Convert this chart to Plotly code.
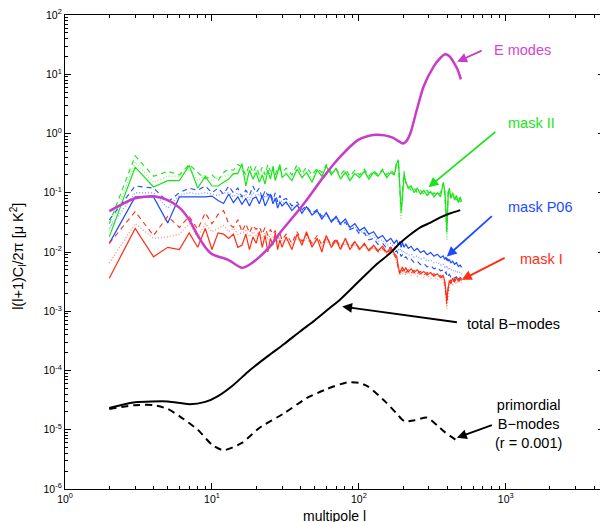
import plotly.graph_objects as go
import math

# ---------------- data ----------------
L_LOW = list(range(2, 31))
L_HIGH = [32, 35, 38, 41, 44, 48, 52, 56, 60, 65,
          70, 75, 81, 87, 94, 101, 109, 117, 126, 135,
          145, 155, 165, 174, 181, 186, 190, 194, 198, 203,
          209, 217, 227, 238, 250, 263, 277, 292, 308, 325,
          342, 360, 375, 385, 392, 397, 401, 406, 413, 423,
          435, 448, 462, 476, 490, 500]

# mask II (green)
GREEN_SOLID_LOW = [0.018, 0.27, 0.125, 0.16, 0.16, 0.29, 0.12, 0.19, 0.13, 0.13,
                   0.15, 0.17, 0.21, 0.21, 0.31, 0.13, 0.24, 0.17, 0.22, 0.15,
                   0.2, 0.14, 0.24, 0.17, 0.27, 0.16, 0.22, 0.3, 0.18]
GREEN_SOLID_HIGH = [0.21, 0.16, 0.25, 0.18, 0.22, 0.15, 0.24, 0.19, 0.28, 0.2,
                    0.26, 0.17, 0.22, 0.16, 0.21, 0.18, 0.23, 0.17, 0.22, 0.19,
                    0.24, 0.18, 0.22, 0.2, 0.31, 0.36, 0.13, 0.05, 0.08, 0.21,
                    0.15, 0.12, 0.13, 0.1, 0.12, 0.095, 0.11, 0.09, 0.105, 0.085,
                    0.1, 0.085, 0.15, 0.11, 0.05, 0.024, 0.04, 0.1, 0.12, 0.08,
                    0.1, 0.075, 0.09, 0.068, 0.085, 0.07]
GREEN_DASH_LOW = [0.03, 0.42, 0.19, 0.23, 0.2, 0.3, 0.22, 0.17, 0.2, 0.16,
                  0.22, 0.25, 0.24, 0.3, 0.27, 0.2, 0.3, 0.22, 0.28, 0.2,
                  0.27, 0.2, 0.3, 0.23, 0.28, 0.2, 0.27, 0.25, 0.22]
GREEN_DASH_HIGH = [0.26, 0.2, 0.3, 0.21, 0.27, 0.2, 0.26, 0.22, 0.3, 0.22,
                   0.25, 0.2, 0.25, 0.19, 0.24, 0.2, 0.25, 0.19, 0.24, 0.2,
                   0.25, 0.2, 0.24, 0.21, 0.33, 0.3, 0.09, 0.045, 0.1, 0.23,
                   0.14, 0.13, 0.11, 0.12, 0.1, 0.11, 0.095, 0.11, 0.09, 0.1,
                   0.09, 0.1, 0.14, 0.09, 0.04, 0.02, 0.05, 0.11, 0.1, 0.09,
                   0.085, 0.09, 0.075, 0.085, 0.07, 0.08]
GREEN_DOT_LOW = [0.023, 0.33, 0.15, 0.19, 0.19, 0.25, 0.16, 0.2, 0.16, 0.18,
                 0.19, 0.2, 0.2, 0.23, 0.25, 0.17, 0.25, 0.19, 0.24, 0.18,
                 0.23, 0.17, 0.25, 0.19, 0.24, 0.18, 0.24, 0.26, 0.2]
GREEN_DOT_HIGH = [0.23, 0.18, 0.27, 0.2, 0.24, 0.17, 0.25, 0.2, 0.27, 0.21,
                  0.24, 0.18, 0.23, 0.18, 0.22, 0.19, 0.24, 0.18, 0.23, 0.19,
                  0.23, 0.19, 0.23, 0.2, 0.28, 0.33, 0.1, 0.035, 0.07, 0.2,
                  0.16, 0.11, 0.12, 0.11, 0.11, 0.1, 0.1, 0.1, 0.1, 0.09,
                  0.095, 0.09, 0.13, 0.1, 0.035, 0.016, 0.035, 0.09, 0.11, 0.085,
                  0.095, 0.08, 0.085, 0.07, 0.08, 0.072]

# mask P06 (blue)
BLUE_SOLID_LOW = [0.014, 0.085, 0.085, 0.031, 0.085, 0.085, 0.085, 0.085, 0.088, 0.074,
                  0.066, 0.095, 0.068, 0.085, 0.064, 0.08, 0.06, 0.08, 0.085, 0.065,
                  0.09, 0.06, 0.075, 0.095, 0.065, 0.08, 0.055, 0.07, 0.06]
BLUE_SOLID_HIGH = [0.07, 0.05, 0.062, 0.045, 0.058, 0.042, 0.05, 0.036, 0.046, 0.032,
                   0.04, 0.03, 0.036, 0.026, 0.03, 0.023, 0.026, 0.02, 0.022, 0.017,
                   0.019, 0.015, 0.017, 0.014, 0.016, 0.013, 0.015, 0.012, 0.0145, 0.012,
                   0.0135, 0.0115, 0.0125, 0.0105, 0.0115, 0.0098, 0.0105, 0.009, 0.0098, 0.0085,
                   0.0092, 0.008, 0.0086, 0.0075, 0.0082, 0.0072, 0.0078, 0.007, 0.0075, 0.0066,
                   0.007, 0.0062, 0.0066, 0.0057, 0.006, 0.0055]
BLUE_DASH_LOW = [0.035, 0.13, 0.12, 0.07, 0.1, 0.12, 0.11, 0.13, 0.1, 0.12,
                 0.095, 0.13, 0.1, 0.12, 0.085, 0.11, 0.09, 0.13, 0.1, 0.12,
                 0.08, 0.11, 0.09, 0.1, 0.075, 0.1, 0.07, 0.09, 0.075]
BLUE_DASH_HIGH = [0.08, 0.06, 0.07, 0.052, 0.06, 0.045, 0.052, 0.04, 0.045, 0.034,
                  0.038, 0.029, 0.032, 0.024, 0.026, 0.02, 0.021, 0.016, 0.017, 0.0135,
                  0.014, 0.0115, 0.012, 0.0098, 0.0105, 0.009, 0.0095, 0.0085, 0.009, 0.0078,
                  0.0083, 0.0072, 0.0076, 0.0066, 0.007, 0.0061, 0.0064, 0.0056, 0.0059, 0.0052,
                  0.0055, 0.0048, 0.005, 0.0044, 0.0046, 0.0041, 0.0044, 0.004, 0.0042, 0.0038,
                  0.004, 0.0036, 0.0038, 0.0034, 0.0036, 0.0033]
BLUE_DOT_LOW = [0.025, 0.1, 0.1, 0.055, 0.09, 0.1, 0.095, 0.1, 0.095, 0.09,
                0.1, 0.1, 0.085, 0.1, 0.08, 0.095, 0.075, 0.1, 0.09, 0.095,
                0.075, 0.09, 0.08, 0.085, 0.07, 0.085, 0.065, 0.075, 0.07]
BLUE_DOT_HIGH = [0.065, 0.055, 0.06, 0.048, 0.055, 0.043, 0.048, 0.038, 0.042, 0.033,
                 0.036, 0.028, 0.031, 0.025, 0.027, 0.021, 0.023, 0.018, 0.019, 0.015,
                 0.016, 0.013, 0.014, 0.012, 0.0125, 0.011, 0.0115, 0.0102, 0.0108, 0.0095,
                 0.01, 0.0088, 0.0092, 0.0082, 0.0086, 0.0076, 0.0079, 0.007, 0.0073, 0.0065,
                 0.0068, 0.006, 0.0063, 0.0056, 0.0059, 0.0053, 0.0057, 0.0051, 0.0054, 0.0049,
                 0.0051, 0.0046, 0.0049, 0.0044, 0.0046, 0.0042]

# mask I (red)
RED_SOLID_LOW = [0.0036, 0.025, 0.0083, 0.012, 0.011, 0.021, 0.012, 0.025, 0.011, 0.021,
                 0.02, 0.017, 0.02, 0.012, 0.013, 0.02, 0.011, 0.018, 0.014, 0.022,
                 0.012, 0.019, 0.01, 0.017, 0.013, 0.021, 0.011, 0.016, 0.012]
RED_SOLID_HIGH = [0.018, 0.011, 0.02, 0.013, 0.022, 0.012, 0.017, 0.01, 0.019, 0.012,
                  0.016, 0.011, 0.017, 0.011, 0.015, 0.011, 0.014, 0.0105, 0.013, 0.0105,
                  0.0125, 0.0098, 0.012, 0.0095, 0.0085, 0.0055, 0.0045, 0.005, 0.0056, 0.0048,
                  0.0054, 0.0046, 0.0052, 0.0045, 0.005, 0.0043, 0.0047, 0.0041, 0.0045, 0.0039,
                  0.0043, 0.0037, 0.004, 0.0032, 0.0022, 0.0015, 0.002, 0.0028, 0.0033, 0.0029,
                  0.0036, 0.0031, 0.0037, 0.0032, 0.0038, 0.0034]
RED_DASH_LOW = [0.014, 0.048, 0.019, 0.04, 0.026, 0.04, 0.024, 0.046, 0.03, 0.043,
                0.05, 0.03, 0.026, 0.035, 0.022, 0.03, 0.021, 0.028, 0.024, 0.027,
                0.02, 0.026, 0.019, 0.024, 0.02, 0.023, 0.017, 0.021, 0.016]
RED_DASH_HIGH = [0.02, 0.014, 0.022, 0.015, 0.02, 0.014, 0.019, 0.013, 0.018, 0.013,
                 0.017, 0.012, 0.016, 0.012, 0.015, 0.0115, 0.0135, 0.011, 0.0125, 0.0102,
                 0.0115, 0.0095, 0.011, 0.009, 0.0075, 0.005, 0.0043, 0.0052, 0.0047, 0.0053,
                 0.0045, 0.005, 0.0044, 0.0049, 0.0043, 0.0047, 0.0041, 0.0045, 0.004, 0.0043,
                 0.0038, 0.004, 0.0035, 0.003, 0.0018, 0.0013, 0.0017, 0.0026, 0.003, 0.0034,
                 0.003, 0.0035, 0.0031, 0.0036, 0.0032, 0.0036]
RED_DOT_LOW = [0.0065, 0.03, 0.017, 0.018, 0.02, 0.03, 0.018, 0.03, 0.022, 0.025,
               0.028, 0.022, 0.025, 0.02, 0.021, 0.023, 0.018, 0.022, 0.019, 0.022,
               0.017, 0.021, 0.016, 0.02, 0.017, 0.019, 0.015, 0.018, 0.015]
RED_DOT_HIGH = [0.016, 0.013, 0.017, 0.014, 0.017, 0.013, 0.016, 0.012, 0.016, 0.012,
                0.015, 0.0115, 0.014, 0.0112, 0.0135, 0.0108, 0.0128, 0.0102, 0.012, 0.0098,
                0.0112, 0.0092, 0.0105, 0.0088, 0.007, 0.0048, 0.004, 0.0046, 0.0042, 0.0047,
                0.0041, 0.0046, 0.004, 0.0045, 0.0039, 0.0043, 0.0038, 0.0041, 0.0036, 0.0039,
                0.0034, 0.0037, 0.0032, 0.0026, 0.0015, 0.0011, 0.0014, 0.0022, 0.0027, 0.0031,
                0.0028, 0.0032, 0.0029, 0.0033, 0.003, 0.0032]

# E modes (magenta)
L_E = [2, 3, 4, 5, 6, 7, 8, 9, 10, 11, 13, 16, 18, 21, 25, 29, 36, 44, 57, 75,
       99, 113, 130, 150, 170, 190, 200, 212, 224, 248, 276, 323, 360, 387, 415, 441, 470, 495]
E_MODES = [0.049, 0.081, 0.087, 0.075, 0.056, 0.035, 0.019, 0.012, 0.0092, 0.0084,
           0.0073, 0.0054, 0.0061, 0.0082, 0.0127, 0.021, 0.04, 0.075, 0.18, 0.41,
           0.78, 0.89, 0.95, 0.93, 0.85, 0.72, 0.68, 0.76, 1.0, 2.5,
           6.2, 13.5, 19.0, 21.7, 20.0, 16.0, 12.0, 8.2]

# total B-modes (black solid)
L_BT = [2, 3, 5, 7, 9, 11, 14, 18, 24, 31, 40, 50, 61, 75, 100, 130, 163, 190,
        223, 262, 305, 356, 420, 490]
B_TOTAL = [2.33e-5, 2.9e-5, 3.0e-5, 2.7e-5, 2.95e-5, 3.7e-5, 5.7e-5, 1.0e-4, 1.75e-4, 2.8e-4,
           4.6e-4, 7.0e-4, 1.05e-3, 1.6e-3, 3.2e-3, 6.0e-3, 9.5e-3, 0.014,
           0.0195, 0.026, 0.031, 0.038, 0.045, 0.051]

# primordial B-modes r=0.001 (black dashed)
L_BP = [2, 3, 4, 5, 6, 8, 10, 12, 16, 21, 31, 44, 61, 83, 100, 115, 152, 180,
        205, 240, 292, 340, 385, 480]
B_PRIM = [2.24e-5, 2.6e-5, 2.6e-5, 2.24e-5, 1.7e-5, 1.0e-5, 5.6e-6, 4.5e-6, 6.0e-6, 1.07e-5,
          1.9e-5, 3.4e-5, 4.9e-5, 6.3e-5, 6.2e-5, 5.4e-5, 2.95e-5, 1.9e-5,
          1.38e-5, 1.45e-5, 1.6e-5, 1.2e-5, 9.1e-6, 6.2e-6]

X_TICKS = [1, 10, 100, 1000]
X_TICK_TEXT = ["10<sup>0</sup>", "10<sup>1</sup>", "10<sup>2</sup>", "10<sup>3</sup>"]
Y_TICKS = [1e-6, 1e-5, 1e-4, 1e-3, 1e-2, 1e-1, 1, 10, 100]
Y_TICK_TEXT = ["10<sup>-6</sup>", "10<sup>-5</sup>", "10<sup>-4</sup>", "10<sup>-3</sup>",
               "10<sup>-2</sup>", "10<sup>-1</sup>", "10<sup>0</sup>", "10<sup>1</sup>",
               "10<sup>2</sup>"]

# ---------------- styles ----------------
GREEN, GREEN_L = "rgb(25,228,25)", "rgb(140,240,140)"
BLUE, BLUE_L = "rgb(30,75,255)", "rgb(135,160,255)"
RED, RED_L = "rgb(255,45,20)", "rgb(255,150,140)"
MAGENTA = "rgb(200,60,200)"
FONT = "Liberation Sans, Arial, Helvetica, sans-serif"

ELL = L_LOW + L_HIGH

fig = go.Figure()

masks = [
    (GREEN, GREEN_L, GREEN_SOLID_LOW + GREEN_SOLID_HIGH, GREEN_DASH_LOW + GREEN_DASH_HIGH,
     GREEN_DOT_LOW + GREEN_DOT_HIGH),
    (BLUE, BLUE_L, BLUE_SOLID_LOW + BLUE_SOLID_HIGH, BLUE_DASH_LOW + BLUE_DASH_HIGH,
     BLUE_DOT_LOW + BLUE_DOT_HIGH),
    (RED, RED_L, RED_SOLID_LOW + RED_SOLID_HIGH, RED_DASH_LOW + RED_DASH_HIGH,
     RED_DOT_LOW + RED_DOT_HIGH),
]
for col, col_l, solid, dash, dot in masks:
    fig.add_trace(go.Scatter(x=ELL, y=dot, mode="lines",
                             line=dict(color=col_l, width=1.4, dash="1px,2px")))
    fig.add_trace(go.Scatter(x=ELL, y=dash, mode="lines",
                             line=dict(color=col, width=1.1, dash="5px,4px")))
    fig.add_trace(go.Scatter(x=ELL, y=solid, mode="lines",
                             line=dict(color=col, width=1.2)))

fig.add_trace(go.Scatter(x=L_E, y=E_MODES, mode="lines",
                         line=dict(color=MAGENTA, width=2.5, shape="spline", smoothing=0.7)))
fig.add_trace(go.Scatter(x=L_BT, y=B_TOTAL, mode="lines",
                         line=dict(color="black", width=2, shape="spline", smoothing=0.6)))
fig.add_trace(go.Scatter(x=L_BP, y=B_PRIM, mode="lines",
                         line=dict(color="black", width=2, dash="7px,5px",
                                   shape="spline", smoothing=0.6)))

axis_common = dict(type="log", showgrid=False, zeroline=False, showline=True,
                   linecolor="black", linewidth=1.3, mirror="ticks",
                   ticks="inside", ticklen=6, tickwidth=1, tickcolor="black",
                   ticklabeloverflow="allow",
                   tickfont=dict(family=FONT, size=10.5, color="black"),
                   minor=dict(ticks="inside", ticklen=3, tickwidth=1, tickcolor="black",
                              dtick="D1", showgrid=False))

fig.update_xaxes(range=[-0.0005, 3.669], tickvals=X_TICKS, ticktext=X_TICK_TEXT, **axis_common)
fig.update_yaxes(range=[-6.0005, 2.0005], tickvals=Y_TICKS, ticktext=Y_TICK_TEXT, **axis_common)


def lg(v):
    return math.log10(v)


ann = []
# arrows: (tail_l, tail_y, tip_l, tip_y, color)
ARROWS = [
    (702, 25.7, 467, 16.2, MAGENTA),
    (870, 1.12, 298, 0.124, GREEN),
    (824, 0.0424, 397, 0.0084, BLUE),
    (1007, 0.0082, 502, 0.0034, RED),
    (476, 6.47e-4, 77, 1.2e-3, "black"),
    (824, 1.22e-5, 465, 7.3e-6, "black"),
]
for tl, ty, hl, hy, col in ARROWS:
    ann.append(dict(x=lg(hl), y=lg(hy), ax=lg(tl), ay=lg(ty), xref="x", yref="y",
                    axref="x", ayref="y", text="", showarrow=True, arrowhead=2,
                    arrowsize=1.1, arrowwidth=1.8, arrowcolor=col))

LABELS = [
    ("E modes", 1294, 25.7, "rgb(210,70,210)"),
    ("mask II", 1489, 1.49, GREEN),
    ("mask P06", 1702, 0.0571, BLUE),
    ("mask I", 1742, 0.00767, RED),
    ("total B\u2212modes", 1122, 6.15e-4, "black"),
    ("primordial<br>B\u2212modes<br>(r = 0.001)", 1426, 1.27e-5, "black"),
]
for txt, lx, ly, col in LABELS:
    ann.append(dict(x=lg(lx), y=lg(ly), xref="x", yref="y", text=txt, showarrow=False,
                    xanchor="center", yanchor="middle",
                    font=dict(family=FONT, size=14.5, color=col)))

ann.append(dict(x=0.5, y=-0.056, xref="paper", yref="paper", text="multipole l",
                showarrow=False, xanchor="center", yanchor="middle",
                font=dict(family=FONT, size=14, color="black")))
ann.append(dict(x=-0.087, y=0.49, xref="paper", yref="paper",
                text="l(l+1)C<sub>l</sub>/2\u03c0 [\u03bc K<sup>2</sup>]",
                textangle=-90, showarrow=False, xanchor="center", yanchor="middle",
                font=dict(family=FONT, size=14.5, color="black")))

# the page body has an 8px margin, so the figure is sized/offset to compensate
fig.update_layout(width=600, height=514,
                  margin=dict(l=57, r=4, t=7, b=33, autoexpand=False),
                  paper_bgcolor="white", plot_bgcolor="white", showlegend=False,
                  annotations=ann)

fig.write_html("out.html")
